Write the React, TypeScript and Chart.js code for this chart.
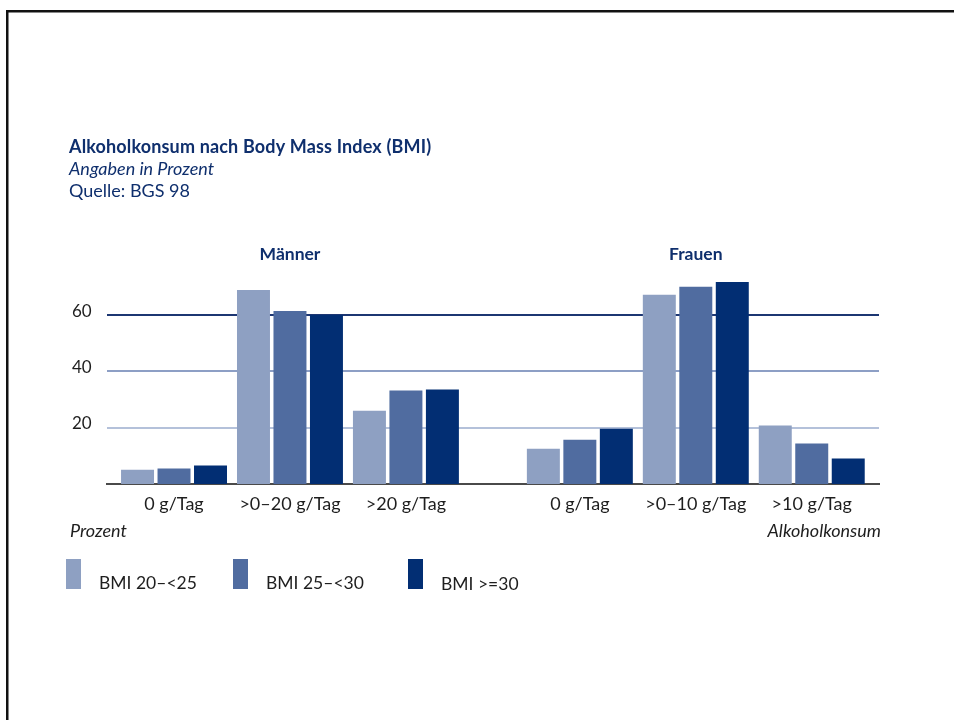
import React, { useEffect, useRef } from "react";
import { Chart, registerables } from "chart.js";

Chart.register(...registerables);

// Positions of the category groups on the x scale (gap between Männer and Frauen)
const xPositions = [0, 1, 2, 3.5, 4.5, 5.5];
const categories = ["0 g/Tag", ">0–20 g/Tag", ">20 g/Tag", "0 g/Tag", ">0–10 g/Tag", ">10 g/Tag"];
const groupLabels = ["Männer", "Frauen"];
const groupCenters = [1, 4.5];

const seriesLabels = ["BMI 20–<25", "BMI 25–<30", "BMI >=30"];
const bmiNormal = [5.1, 69.0, 26.0, 12.5, 67.3, 20.8];
const bmiOver = [5.5, 61.5, 33.2, 15.7, 70.1, 14.4];
const bmiObese = [6.6, 60.1, 33.6, 19.6, 71.8, 9.1];
const seriesColors = ["#8ea0c2", "#506ca0", "#022e73"];

const yTicks = [20, 40, 60];
const gridColors: Record<number, string> = { 20: "#b4c1da", 40: "#8d9fc5", 60: "#1c3672" };

const NAVY = "#0f2f6d";
const TEXT = "#1e1e1e";
const FONT = "Lato, 'Open Sans', sans-serif";

const decorPlugin = {
  id: "decor",
  afterDraw(chart: any) {
    const ctx = chart.ctx as CanvasRenderingContext2D;
    const x = chart.scales.x;
    ctx.save();

    // frame lines (top and left)
    ctx.fillStyle = "#111";
    ctx.fillRect(6, 10, 948, 2.5);
    ctx.fillRect(6, 10, 2.5, 710);

    ctx.textBaseline = "alphabetic";
    ctx.textAlign = "left";
    ctx.fillStyle = NAVY;
    (ctx as any).letterSpacing = "0.15px";
    ctx.font = `bold 18px ${FONT}`;
    ctx.fillText("Alkoholkonsum nach Body Mass Index (BMI)", 69, 153);
    (ctx as any).letterSpacing = "0px";
    ctx.font = `italic 18px ${FONT}`;
    ctx.fillText("Angaben in Prozent", 69, 175);
    ctx.font = `18px ${FONT}`;
    ctx.fillText("Quelle: BGS 98", 69, 197);

    // group headings
    ctx.textAlign = "center";
    ctx.font = `bold 17.5px ${FONT}`;
    groupLabels.forEach((g, i) => {
      ctx.fillText(g, x.getPixelForValue(groupCenters[i]), 260);
    });

    // axis titles
    ctx.fillStyle = TEXT;
    ctx.font = `italic 18px ${FONT}`;
    ctx.textAlign = "left";
    ctx.fillText("Prozent", 70, 537);
    ctx.textAlign = "right";
    ctx.fillText("Alkoholkonsum", 881, 537);

    // legend
    const swatchX = [66, 233, 408];
    const textX = [99, 266, 441];
    const textY = [589, 589, 590];
    ctx.textAlign = "left";
    ctx.font = `17.5px ${FONT}`;
    chart.data.datasets.forEach((ds: any, i: number) => {
      ctx.fillStyle = ds.backgroundColor;
      ctx.fillRect(swatchX[i], 559, 15, 30);
      ctx.fillStyle = TEXT;
      ctx.fillText(ds.label, textX[i], textY[i]);
    });

    ctx.restore();
  },
};

export default function App() {
  const canvasRef = useRef<HTMLCanvasElement | null>(null);

  useEffect(() => {
    document.body.style.margin = "0";
    const series = [bmiNormal, bmiOver, bmiObese];
    const chart = new Chart(canvasRef.current!, {
      type: "bar",
      data: {
        datasets: series.map((vals, i) => ({
          label: seriesLabels[i],
          data: vals.map((v, j) => ({ x: xPositions[j], y: v })),
          backgroundColor: seriesColors[i],
          borderWidth: 0,
          categoryPercentage: 0.944,
          barPercentage: 0.904,
        })),
      },
      options: {
        animation: false,
        responsive: false,
        maintainAspectRatio: false,
        layout: { padding: { left: 72, top: 273, right: 75, bottom: 0 } },
        plugins: { legend: { display: false }, tooltip: { enabled: false }, title: { display: false } },
        scales: {
          x: {
            type: "linear",
            offset: false,
            min: -0.578,
            max: 6.08,
            grid: { display: false, drawTicks: false },
            border: { display: true, color: "#4a4a4a", width: 2 },
            afterBuildTicks: (scale: any) => {
              scale.ticks = xPositions.map((v) => ({ value: v }));
            },
            afterFit: (scale: any) => {
              scale.height = 720 - 484;
            },
            ticks: {
              autoSkip: false,
              maxRotation: 0,
              padding: 9,
              color: TEXT,
              font: { family: FONT, size: 18 },
              callback: (_v: any, i: number) => categories[i],
            },
          },
          y: {
            min: 0,
            max: 75,
            border: { display: false },
            afterBuildTicks: (scale: any) => {
              scale.ticks = yTicks.map((v) => ({ value: v }));
            },
            afterFit: (scale: any) => {
              scale.width = 35;
            },
            grid: {
              drawTicks: false,
              lineWidth: 2,
              color: (c: any) => gridColors[c.tick?.value] || "transparent",
            },
            ticks: {
              crossAlign: "far",
              labelOffset: -4,
              color: TEXT,
              font: { family: FONT, size: 17 },
            },
          },
        },
      },
      plugins: [decorPlugin],
    });
    return () => chart.destroy();
  }, []);

  return (
    <div style={{ position: "relative", width: 954, height: 720, background: "#fff" }}>
      <canvas ref={canvasRef} width={954} height={720} style={{ display: "block" }} />
    </div>
  );
}
